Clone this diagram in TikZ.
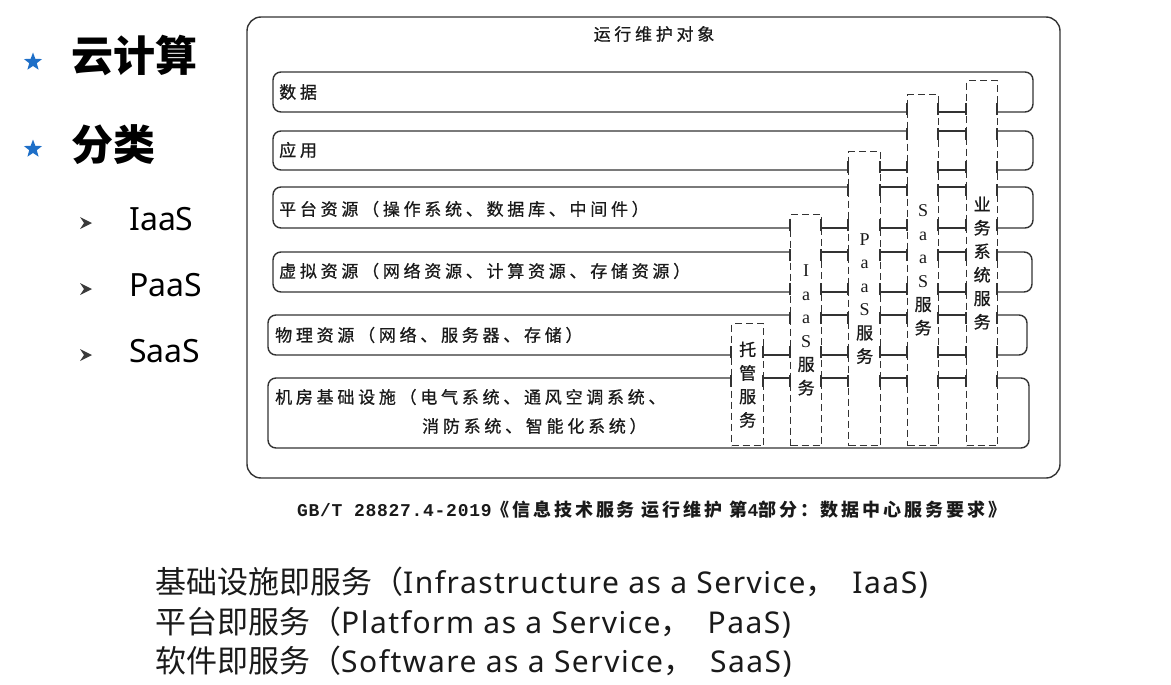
\documentclass[tikz,border=0pt]{standalone}
\usepackage{fontspec}
\setmainfont{Noto Sans CJK SC}
\newfontfamily\cjkd[LetterSpace=22,FakeBold=0.8]{Noto Sans CJK SC}
\newfontfamily\cjkv[FakeBold=0.8]{Noto Sans CJK SC}
\newfontfamily\serv{Liberation Serif}
\newfontfamily\cjkc[LetterSpace=16]{Noto Sans CJK SC}
\newfontfamily\monc[LetterSpace=4]{Liberation Mono}
\newfontfamily\latb[LetterSpace=5]{Noto Sans}
\newfontfamily\latn{Noto Sans}
\newfontfamily\cjkb{Noto Sans CJK SC}
\usetikzlibrary{shapes.geometric}
\definecolor{linegray}{HTML}{333333}
\definecolor{txtc}{HTML}{1A1A1A}
\definecolor{starblue}{HTML}{1E6FC8}
\definecolor{bulletgray}{HTML}{3A3A3A}
\newcommand\bandtick[3]{\draw[bandline] (#1,{#2-3*(#3)}) -- (#1,{#2+9*(#3)});}
\newcommand\bandseg[4]{\draw[bandline] (#1,#3) -- (#2,#3);\bandtick{#1}{#3}{#4}\bandtick{#2}{#3}{#4}}
\newcommand\botcjk[1]{{\cjkb\fontsize{31}{36}\selectfont #1}}
\newcommand\botlat[1]{{\latb\fontsize{30}{36}\selectfont #1}}
\newcommand\vlat[1]{{\serv\fontsize{18}{23.5}\selectfont #1}}
\tikzset{
  bandline/.style={draw=linegray, line width=1.4pt},
  svcbox/.style={draw=linegray, line width=1.3pt, dash pattern=on 7pt off 4pt, inner sep=0, anchor=north west},
  lbl/.style={anchor=west, inner sep=0, text=txtc, font=\cjkd\fontsize{17}{20}\selectfont},
  vtext/.style={align=center, inner sep=0, text=txtc, font=\cjkv\fontsize{17}{23.5}\selectfont},
  bigtxt/.style={anchor=west, inner sep=0, text=black, font=\bfseries\fontsize{42}{50}\selectfont},
  subtxt/.style={anchor=west, inner sep=0, text=black, font=\latn\fontsize{32}{38}\selectfont},
  bottxt/.style={anchor=west, inner sep=0, text=txtc},
  bluestar/.style={star, star points=5, star point ratio=2.4, fill=starblue, inner sep=0, minimum size=19}
}
\begin{document}
\begin{tikzpicture}[x=1pt,y=-1pt]
\fill[white] (0,0) rectangle (1171,685);
\useasboundingbox (0,0) rectangle (1171,685);

% left column
\node[bluestar] (st1) at (33,62) {};
\node[bluestar] (st2) at (33,149) {};
\node[bigtxt] (cc) at (71,56) {云计算};
\node[bigtxt] (fl) at (71,145) {分类};
\foreach \yy/\txt/\nm in {219/IaaS/ia, 285/PaaS/pa, 351/SaaS/sa}{
  \fill[bulletgray] (80,{\yy-2}) -- (92,{\yy+4}) -- (80,{\yy+10}) -- (84,{\yy+4}) -- cycle;
  \node[subtxt] (\nm) at (129,\yy) {\txt};
}

% outer frame
\draw[bandline, rounded corners=14] (247,17) rectangle (1060,478);
\node[lbl, anchor=center] (title) at (654,34) {运行维护对象};

% dashed service boxes
\node[svcbox, minimum width=32, minimum height=122] (tg) at (731,323) {};
\node[svcbox, minimum width=31, minimum height=231] (ib) at (790,214) {};
\node[svcbox, minimum width=32, minimum height=294] (pb) at (848,151) {};
\node[svcbox, minimum width=31, minimum height=351] (sb) at (907,94) {};
\node[svcbox, minimum width=31, minimum height=365] (yb) at (966,80) {};
\node[vtext] at (tg.center) {托\\管\\服\\务};
\node[vtext] at (ib.center) {\vlat{I}\\\vlat{a}\\\vlat{a}\\\vlat{S}\\服\\务};
\node[vtext] at (pb.center) {\vlat{P}\\\vlat{a}\\\vlat{a}\\\vlat{S}\\服\\务};
\node[vtext] at (sb.center) {\vlat{S}\\\vlat{a}\\\vlat{a}\\\vlat{S}\\服\\务};
\node[vtext] at (yb.center) {业\\务\\系\\统\\服\\务};

% band: data
\draw[bandline, rounded corners=8] (907,112) -- (273,112) -- (273,72) -- (1033,72) -- (1033,112) -- (997,112);
\bandtick{907}{112}{-1}\bandtick{997}{112}{-1}
\bandseg{938}{966}{112}{-1}
\node[lbl] (sj) at (279,92) {数据};

% band: application
\draw[bandline, rounded corners=8] (907,131) -- (273,131) -- (273,170) -- (848,170);
\bandtick{907}{131}{1}\bandtick{848}{170}{-1}
\bandseg{938}{966}{131}{1}
\bandseg{880}{907}{170}{-1}\bandseg{938}{966}{170}{-1}
\draw[bandline, rounded corners=8] (997,131) -- (1033,131) -- (1033,170) -- (997,170);
\bandtick{997}{131}{1}\bandtick{997}{170}{-1}
\node[lbl] (yy) at (279,150) {应用};

% band: platform
\draw[bandline, rounded corners=8] (848,187) -- (273,187) -- (273,228) -- (790,228);
\bandtick{848}{187}{1}\bandtick{790}{228}{-1}
\bandseg{880}{907}{187}{1}\bandseg{938}{966}{187}{1}
\bandseg{821}{848}{228}{-1}\bandseg{880}{907}{228}{-1}\bandseg{938}{966}{228}{-1}
\draw[bandline, rounded corners=8] (997,187) -- (1033,187) -- (1033,228) -- (997,228);
\bandtick{997}{187}{1}\bandtick{997}{228}{-1}
\node[lbl] (pt) at (279,209) {平台资源（操作系统、数据库、中间件）};

% band: virtual
\draw[bandline, rounded corners=8] (790,252) -- (273,252) -- (273,292) -- (790,292);
\bandtick{790}{252}{1}\bandtick{790}{292}{-1}
\bandseg{821}{848}{252}{1}\bandseg{880}{907}{252}{1}\bandseg{938}{966}{252}{1}
\bandseg{821}{848}{292}{-1}\bandseg{880}{907}{292}{-1}\bandseg{938}{966}{292}{-1}
\draw[bandline, rounded corners=8] (997,252) -- (1032,252) -- (1032,292) -- (997,292);
\bandtick{997}{252}{1}\bandtick{997}{292}{-1}
\node[lbl] (xn) at (279,271) {虚拟资源（网络资源、计算资源、存储资源）};

% band: physical
\draw[bandline, rounded corners=8] (790,315) -- (268,315) -- (268,355) -- (731,355);
\bandtick{790}{315}{1}\bandtick{731}{355}{-1}
\bandseg{821}{848}{315}{1}\bandseg{880}{907}{315}{1}\bandseg{938}{966}{315}{1}
\bandseg{763}{790}{355}{-1}\bandseg{821}{848}{355}{-1}\bandseg{880}{907}{355}{-1}\bandseg{938}{966}{355}{-1}
\draw[bandline, rounded corners=8] (997,315) -- (1027,315) -- (1027,355) -- (997,355);
\bandtick{997}{315}{1}\bandtick{997}{355}{-1}
\node[lbl] (wl) at (275,335) {物理资源（网络、服务器、存储）};

% band: facility
\draw[bandline, rounded corners=8] (731,378) -- (268,378) -- (268,448) -- (1029,448) -- (1029,378) -- (997,378);
\bandtick{731}{378}{1}\bandtick{997}{378}{1}
\bandseg{763}{790}{378}{1}\bandseg{821}{848}{378}{1}\bandseg{880}{907}{378}{1}\bandseg{938}{966}{378}{1}
\node[lbl] (jf1) at (275,397) {机房基础设施（电气系统、通风空调系统、};
\node[lbl] (jf2) at (422,426) {消防系统、智能化系统）};

% caption
\node[anchor=west, inner sep=0, text=txtc, font=\fontsize{18}{21}\selectfont] (cap) at (297,510)
  {{\monc\bfseries GB/T 28827.4-2019}{\cjkc\bfseries 《信息技术服务 运行维护 第}{\monc\bfseries 4}{\cjkc\bfseries 部分：数据中心服务要求》}};

% bottom lines
\node[bottxt] (l1) at (155,583) {\botcjk{基础设施即服务（}\botlat{Infrastructure as a Service}\botcjk{，}\hspace{16pt}\botlat{IaaS)}};
\node[bottxt] (l2) at (155,623) {\botcjk{平台即服务（}\botlat{Platform as a Service}\botcjk{，}\hspace{16pt}\botlat{PaaS)}};
\node[bottxt] (l3) at (155,662) {\botcjk{软件即服务（}\botlat{Software as a Service}\botcjk{，}\hspace{16pt}\botlat{SaaS)}};
\end{tikzpicture}
\end{document}
